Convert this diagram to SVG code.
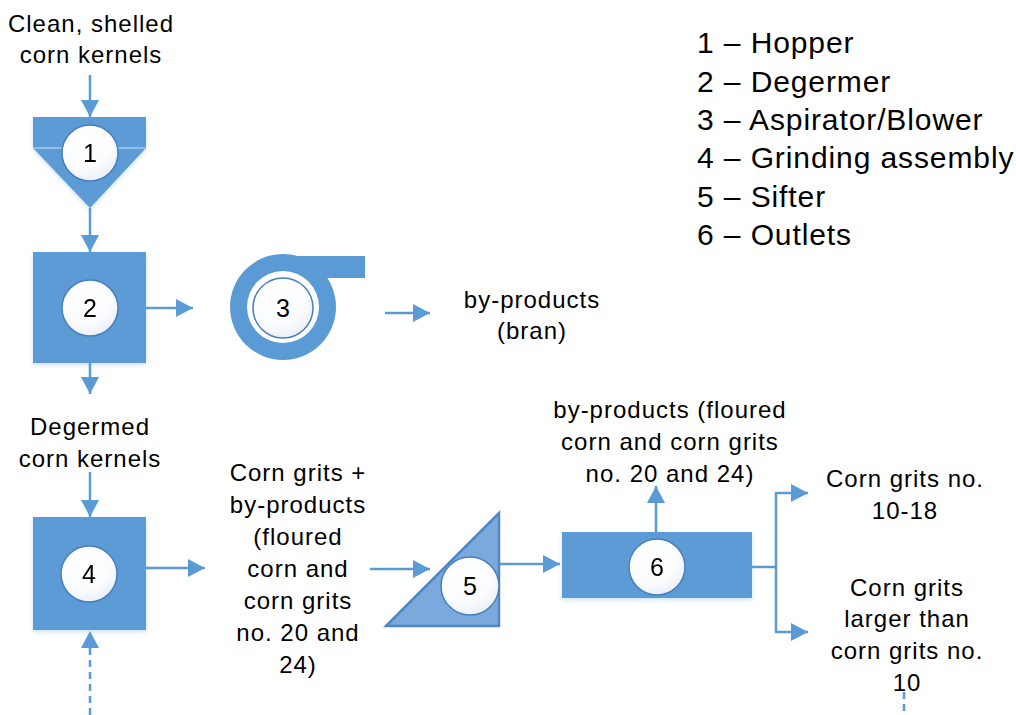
<svg xmlns="http://www.w3.org/2000/svg" width="1016" height="715" viewBox="0 0 1016 715">
<style>
.t{font-family:"Liberation Sans",Arial,sans-serif;font-size:24px;letter-spacing:1px;fill:#000;text-anchor:middle}
.lg{font-family:"Liberation Sans",Arial,sans-serif;font-size:30px;letter-spacing:0.9px;fill:#000}
.num{font-family:"Liberation Sans",Arial,sans-serif;font-size:25px;fill:#000;text-anchor:middle}
.blue{fill:#5b9bd5}
.ln{stroke:#5b9bd5;stroke-width:2.5;fill:none}
.ah{stroke:#5b9bd5;stroke-width:2.5;fill:none;marker-end:url(#arr)}
.dash{stroke-dasharray:7 5}
.c{fill:url(#cg);stroke:#4a7ebb;stroke-width:1.5}
</style>
<defs>
<marker id="arr" markerUnits="userSpaceOnUse" markerWidth="18" markerHeight="18" viewBox="0 0 18 18" refX="17" refY="9" orient="auto">
<path d="M0,0 L17,9 L0,18 Z" fill="#5b9bd5"/>
</marker>
<radialGradient id="cg" cx="0.4" cy="0.3" r="0.8">
<stop offset="0" stop-color="#ffffff"/>
<stop offset="0.6" stop-color="#fbfcfe"/>
<stop offset="1" stop-color="#e4ebf5"/>
</radialGradient>
<filter id="sh" x="-20%" y="-20%" width="140%" height="140%">
<feDropShadow dx="0" dy="2" stdDeviation="2" flood-color="#5b9bd5" flood-opacity="0.3"/>
</filter>
</defs>

<g id="connectors">
<line class="ah" x1="90" y1="75" x2="90" y2="117"/>
<line class="ah" x1="90" y1="208" x2="90" y2="252"/>
<line class="ah" x1="146" y1="308" x2="193" y2="308"/>
<line class="ah" x1="385" y1="313" x2="430" y2="313"/>
<line class="ah" x1="90" y1="363" x2="90" y2="394"/>
<line class="ah" x1="90" y1="472" x2="90" y2="517"/>
<line class="ah dash" x1="90" y1="715" x2="90" y2="631"/>
<line class="ah" x1="146" y1="568" x2="205" y2="568"/>
<line class="ah" x1="370" y1="569" x2="430" y2="569"/>
<line class="ah" x1="499" y1="564" x2="560" y2="564"/>
<line class="ah" x1="656" y1="532" x2="656" y2="486"/>
<line class="ln" x1="752" y1="567" x2="776" y2="567"/>
<polyline class="ln" points="776,632 776,493"/>
<line class="ah" x1="775" y1="493" x2="808" y2="493"/>
<line class="ah" x1="775" y1="632" x2="808" y2="632"/>
<line class="ln dash" x1="904" y1="692" x2="904" y2="715"/>
</g>

<g id="node1" filter="url(#sh)">
<rect class="blue" x="33" y="117" width="113" height="31"/>
<polygon class="blue" points="33,148 146,148 90,208"/>
<line x1="33" y1="148" x2="146" y2="148" stroke="#a9c8e8" stroke-width="1.5"/>
<circle class="c" cx="90" cy="153" r="28"/>
<text class="num" x="90" y="162">1</text>
</g>

<g id="node2" filter="url(#sh)">
<rect class="blue" x="33" y="252" width="113" height="111"/>
<circle class="c" cx="90" cy="308" r="28"/>
<text class="num" x="90" y="317">2</text>
</g>

<g id="node3">
<circle class="blue" cx="283" cy="307" r="53"/>
<rect class="blue" x="283" y="256" width="82" height="22"/>
<circle cx="283" cy="307" r="36" fill="#fff"/>
<circle class="c" cx="283" cy="308" r="30"/>
<text class="num" x="283" y="317">3</text>
</g>

<g id="node4" filter="url(#sh)">
<rect class="blue" x="33" y="517" width="113" height="113"/>
<circle class="c" cx="89" cy="574" r="28"/>
<text class="num" x="89" y="583">4</text>
</g>

<g id="node5">
<polygon points="386,626 499,513 499,626" fill="#7aaadc" stroke="#4f87c4" stroke-width="2.5" stroke-linejoin="miter"/>
<circle class="c" cx="470" cy="586" r="29"/>
<text class="num" x="470" y="595">5</text>
</g>

<g id="node6" filter="url(#sh)">
<rect class="blue" x="562" y="532" width="190" height="66"/>
<circle class="c" cx="657" cy="567" r="28"/>
<text class="num" x="657" y="576">6</text>
</g>

<g id="labels">
<text class="t" x="91" y="32">Clean, shelled</text>
<text class="t" x="91" y="63">corn kernels</text>
<text class="t" x="532" y="308">by-products</text>
<text class="t" x="532" y="339">(bran)</text>
<text class="t" x="90" y="435">Degermed</text>
<text class="t" x="90" y="467">corn kernels</text>
<text class="t" x="298" y="481">Corn grits +</text>
<text class="t" x="298" y="513">by-products</text>
<text class="t" x="298" y="545">(floured</text>
<text class="t" x="298" y="577">corn and</text>
<text class="t" x="298" y="609">corn grits</text>
<text class="t" x="298" y="641">no. 20 and</text>
<text class="t" x="298" y="673">24)</text>
<text class="t" x="670" y="418">by-products (floured</text>
<text class="t" x="670" y="450">corn and corn grits</text>
<text class="t" x="670" y="482">no. 20 and 24)</text>
<text class="t" x="905" y="487">Corn grits no.</text>
<text class="t" x="905" y="519">10-18</text>
<text class="t" x="907" y="596">Corn grits</text>
<text class="t" x="907" y="627">larger than</text>
<text class="t" x="907" y="659">corn grits no.</text>
<text class="t" x="907" y="691">10</text>
</g>

<g id="legend">
<text class="lg" x="697" y="53">1 – Hopper</text>
<text class="lg" x="697" y="91.5">2 – Degermer</text>
<text class="lg" x="697" y="130">3 – Aspirator/Blower</text>
<text class="lg" x="697" y="168">4 – Grinding assembly</text>
<text class="lg" x="697" y="206.5">5 – Sifter</text>
<text class="lg" x="697" y="245">6 – Outlets</text>
</g>
</svg>
